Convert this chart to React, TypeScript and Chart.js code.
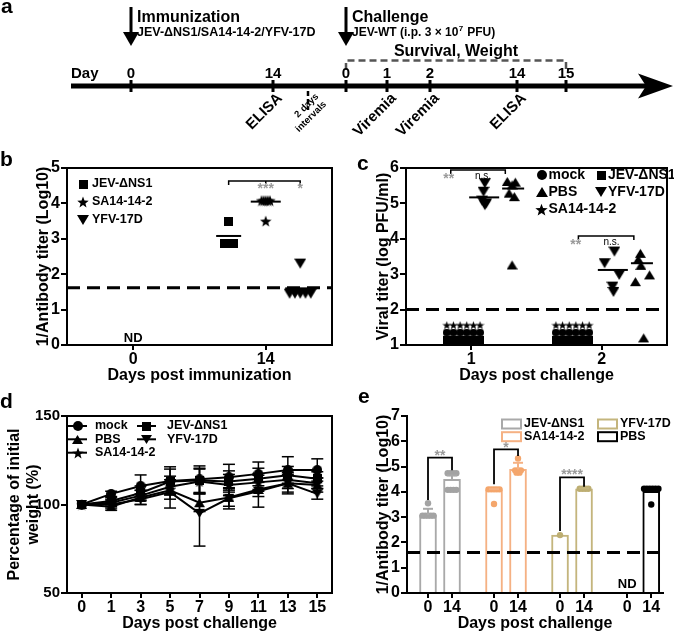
import React, { useEffect, useRef } from 'react';
import { Chart, registerables } from 'chart.js';

Chart.register(...registerables);

const FF = "'Liberation Sans', Arial, Helvetica, sans-serif";
const fnt = (size: number, weight = 'bold') => `${weight} ${size}px ${FF}`;
const AX_FONT: any = { family: FF, size: 16, weight: 'bold' };

// ================= DATA =================
// a: timeline
const immunizationLabels = ['0', '14'];
const challengeLabels = ['0', '1', '2', '14', '15'];
const eventLabels = ['ELISA', 'Viremia', 'Viremia', 'ELISA'];

// b: antibody titer after immunization
const bDays = ['0', '14'];
const bSeries = ['JEV-ΔNS1', 'SA14-14-2', 'YFV-17D'];
const bJEV = [3.5, 2.88, 2.88, 2.88, 2.88, 2.88];
const bSA = [4.08, 4.08, 4.08, 4.08, 4.08, 3.5];
const bYFV = [2.3, 1.45, 1.45, 1.45, 1.45, 1.45];
const bMeans = [3.08, 4.05, 1.6];
const bLimit = 1.62;
const bSig = ['***', '*'];

// c: viral titer
const cDays = ['1', '2'];
const cSeries = ['mock', 'JEV-ΔNS1', 'PBS', 'YFV-17D', 'SA14-14-2'];
const cMock = [1.35, 1.35, 1.35, 1.35, 1.35, 1.35];
const cJEV = [1.15, 1.15, 1.15, 1.15, 1.15, 1.15];
const cSA = [1.56, 1.56, 1.56, 1.56, 1.56, 1.56];
const cYFVDay1 = [5.57, 5.33, 5.08, 5.0, 4.95];
const cYFVDay2 = [3.64, 3.31, 2.98, 2.65, 2.5];
const cPBSDay1 = [5.62, 5.6, 5.52, 5.29, 5.19, 3.26];
const cPBSDay2 = [3.59, 3.42, 3.25, 2.98, 2.79, 1.2];
const cMeanYFV = [5.17, 3.12];
const cMeanPBS = [5.42, 3.31];
const cLimit = 2;
const cSig = ['**', 'n.s.'];

// d: weight
const dDays = ['0', '1', '3', '5', '7', '9', '11', '13', '15'];
const dSeries = ['mock', 'JEV-ΔNS1', 'PBS', 'YFV-17D', 'SA14-14-2'];
const dMock = [100, 106, 110.5, 113.3, 114.3, 115.4, 117.3, 119.5, 119.5];
const dMockSD = [0, 1.5, 6.2, 8, 7.5, 7.3, 6.7, 7.5, 6.3];
const dJEV = [100, 102, 106.5, 113, 113.5, 113, 114.5, 116.5, 114.5];
const dJEVSD = [0, 2, 4, 7, 7, 6, 6, 5, 4];
const dPBS = [100, 98.8, 104, 108, 101, 104, 108.5, 112, 111];
const dPBSSD = [0, 2, 4, 5, 5, 5, 4, 5, 4];
const dYFV = [100, 100, 103, 107, 95, 103.5, 107.5, 112, 106];
const dYFVSD = [0, 2, 3, 9, 18.5, 6, 9, 6, 3];
const dSA = [100, 101, 105, 110, 113, 111, 112.5, 114, 112];
const dSASD = [0, 2, 3, 4, 7, 6, 5, 5, 3];

// e: antibody titer post challenge
const eGroups = ['JEV-ΔNS1', 'SA14-14-2', 'YFV-17D', 'PBS'];
const eDays = ['0', '14'];
const eMean0 = [3.08, 4.07, 2.29, null];
const eMean14 = [4.5, 4.89, 4.12, 4.02];
const eSD0 = [0.25, 0.04, 0, null];
const eSD14 = [0.15, 0.26, 0.02, 0.06];
const eDots0 = [[3.55, 3.06, 3.06, 3.06, 3.06, 3.06], [4.1, 4.1, 4.1, 4.1, 4.1, 3.52], [2.29], []];
const eDots14 = [
  [4.74, 4.74, 4.74, 4.74, 4.08, 4.08, 4.08, 4.08],
  [5.32, 4.85, 4.85, 4.85, 4.76, 4.76],
  [4.12, 4.12, 4.12, 4.12],
  [4.12, 4.12, 4.12, 4.12, 4.12, 4.12, 3.5],
];
const eSig = ['**', '*', '****'];
const eLimit = 1.6;

// ================= HELPERS =================
function makeMarker(shape: string, size: number, color = '#000'): HTMLCanvasElement {
  const c = document.createElement('canvas');
  c.width = size;
  c.height = size;
  const g = c.getContext('2d') as CanvasRenderingContext2D;
  g.fillStyle = color;
  const s = size, h = size / 2;
  g.beginPath();
  if (shape === 'square') g.rect(0, 0, s, s);
  else if (shape === 'circle') g.arc(h, h, h, 0, Math.PI * 2);
  else if (shape === 'triUp') { g.moveTo(h, s * 0.08); g.lineTo(s, s * 0.92); g.lineTo(0, s * 0.92); }
  else if (shape === 'triDown') { g.moveTo(0, s * 0.08); g.lineTo(s, s * 0.08); g.lineTo(h, s * 0.92); }
  else if (shape === 'star') {
    for (let i = 0; i < 10; i++) {
      const r = i % 2 ? h * 0.42 : h;
      const a = -Math.PI / 2 + (i * Math.PI) / 5;
      const px = h + r * Math.cos(a), py = h + s * 0.05 + r * Math.sin(a);
      if (i === 0) g.moveTo(px, py); else g.lineTo(px, py);
    }
  }
  g.closePath();
  g.fill();
  return c;
}

function swarm(values: number[], center: number, step: number) {
  const counts = new Map<number, number>();
  values.forEach((v) => counts.set(v, (counts.get(v) || 0) + 1));
  const seen = new Map<number, number>();
  return values.map((v) => {
    const k = counts.get(v) as number;
    const j = seen.get(v) || 0;
    seen.set(v, j + 1);
    return { x: center + (j - (k - 1) / 2) * step, y: v };
  });
}

function text(ctx: any, s: string, x: number, y: number, size: number, o: any = {}) {
  ctx.font = fnt(size, o.weight || 'bold');
  ctx.fillStyle = o.color || '#000';
  ctx.textAlign = o.align || 'left';
  ctx.textBaseline = o.baseline || 'middle';
  ctx.fillText(s, x, y);
}

function img(ctx: any, im: HTMLCanvasElement, x: number, y: number) {
  ctx.drawImage(im, Math.round(x - im.width / 2), Math.round(y - im.height / 2));
}

function line(ctx: any, pts: number[][], w = 2, color = '#000', dash: number[] = []) {
  ctx.save();
  ctx.beginPath();
  ctx.strokeStyle = color;
  ctx.lineWidth = w;
  ctx.setLineDash(dash);
  pts.forEach((p, i) => (i === 0 ? ctx.moveTo(p[0], p[1]) : ctx.lineTo(p[0], p[1])));
  ctx.stroke();
  ctx.restore();
}

function frame(chart: any) {
  const { ctx, chartArea: ca } = chart;
  ctx.save();
  ctx.strokeStyle = '#000';
  ctx.lineWidth = 2;
  ctx.strokeRect(ca.left, ca.top, ca.right - ca.left, ca.bottom - ca.top);
  ctx.restore();
}

function yScale(min: number, max: number, step: number, title: any, titleTop: number, width: number, tickSize = 16) {
  return {
    type: 'linear', position: 'left', min, max,
    ticks: { stepSize: step, color: '#000', font: { ...AX_FONT, size: tickSize }, padding: 1 },
    grid: { drawOnChartArea: false, drawTicks: true, tickLength: 6, color: '#000', lineWidth: 2 },
    border: { display: true, color: '#000', width: 2 },
    title: { display: true, text: title, color: '#000', font: AX_FONT, padding: { top: titleTop, bottom: 0 } },
    afterFit: (s: any) => { s.width = width; },
  };
}

function xLinear(min: number, max: number, vals: number[], labels: string[], title: string, height: number, titleBottom: number) {
  return {
    type: 'linear', position: 'bottom', min, max, offset: false,
    afterBuildTicks: (s: any) => { s.ticks = vals.map((v) => ({ value: v })); },
    ticks: { color: '#000', font: AX_FONT, padding: 0, autoSkip: false, maxRotation: 0, callback: (_v: any, i: number) => labels[i] },
    grid: { drawOnChartArea: false, drawTicks: true, tickLength: 5, color: '#000', lineWidth: 2, offset: false },
    border: { display: true, color: '#000', width: 2 },
    title: { display: true, text: title, color: '#000', font: AX_FONT, padding: { top: 0, bottom: titleBottom } },
    afterFit: (s: any) => { s.height = height; },
  };
}

const baseOptions = (padding: any) => ({
  animation: false,
  responsive: false,
  maintainAspectRatio: false,
  layout: { padding },
  plugins: { legend: { display: false }, tooltip: { enabled: false } },
  events: [],
});

// ================= PANEL A =================
const TLX = { start: 71, immun: [131, 273], gap: 308, chal: [346, 387, 430, 517, 566], head: 640, tip: 673 };
const TLY = { arrowTop: 7, headTop: 32, arrowTip: 46, title: 18, sub: 33, survival: 52, box: 60.5, boxEnd: 70, label: 73.5, line: 86 };

function configA() {
  const plugin = {
    id: 'timeline',
    afterDraw(chart: any) {
      const { ctx, scales: { x, y } } = chart;
      const X = (v: number) => x.getPixelForValue(v);
      const Y = (v: number) => y.getPixelForValue(v);
      ctx.save();
      text(ctx, 'a', X(1), Y(13), 21, { baseline: 'alphabetic' });
      // arrows
      [TLX.immun[0], TLX.chal[0]].forEach((p) => {
        ctx.fillStyle = '#000';
        ctx.fillRect(X(p) - 1.5, Y(TLY.arrowTop), 3, Y(TLY.headTop + 2) - Y(TLY.arrowTop));
        ctx.beginPath();
        ctx.moveTo(X(p) - 8, Y(TLY.headTop));
        ctx.lineTo(X(p) + 8, Y(TLY.headTop));
        ctx.lineTo(X(p), Y(TLY.arrowTip));
        ctx.closePath();
        ctx.fill();
      });
      text(ctx, 'Immunization', X(137), Y(TLY.title), 16);
      text(ctx, 'JEV-ΔNS1/SA14-14-2/YFV-17D', X(137), Y(TLY.sub), 12.5);
      text(ctx, 'Challenge', X(352), Y(TLY.title), 16);
      // JEV-WT (i.p. 3 × 10^7 PFU)
      ctx.font = fnt(12);
      const p1 = 'JEV-WT (i.p. 3 × 10';
      text(ctx, p1, X(352), Y(TLY.sub), 12);
      ctx.font = fnt(12);
      const w1 = ctx.measureText(p1).width;
      text(ctx, '7', X(352) + w1 + 0.5, Y(TLY.sub - 4), 8);
      ctx.font = fnt(8);
      const w2 = ctx.measureText('7').width;
      text(ctx, ' PFU)', X(352) + w1 + w2 + 1, Y(TLY.sub), 12);
      text(ctx, 'Survival, Weight', X(456), Y(TLY.survival), 16, { align: 'center' });
      // dashed survival box
      line(ctx, [[X(TLX.chal[0]), Y(TLY.boxEnd)], [X(TLX.chal[0]), Y(TLY.box)], [X(TLX.chal[4]), Y(TLY.box)], [X(TLX.chal[4]), Y(TLY.boxEnd)]], 2.5, '#555', [7, 4]);
      // main line
      line(ctx, [[X(TLX.start), Y(TLY.line)], [X(TLX.head + 8), Y(TLY.line)]], 5);
      ctx.fillStyle = '#000';
      ctx.beginPath();
      ctx.moveTo(X(TLX.tip), Y(TLY.line));
      ctx.lineTo(X(TLX.head - 2), Y(TLY.line - 12.5));
      ctx.lineTo(X(TLX.head + 6), Y(TLY.line));
      ctx.lineTo(X(TLX.head - 2), Y(TLY.line + 12.5));
      ctx.closePath();
      ctx.fill();
      // ticks & labels
      text(ctx, 'Day', X(TLX.start), Y(TLY.label), 15);
      TLX.immun.forEach((p, i) => {
        ctx.fillRect(X(p) - 1.5, Y(TLY.line - 6), 3, 12);
        text(ctx, immunizationLabels[i], X(p), Y(TLY.label), 15, { align: 'center' });
      });
      TLX.chal.forEach((p, i) => {
        ctx.fillRect(X(p) - 1.5, Y(TLY.line - 6), 3, 12);
        text(ctx, challengeLabels[i], X(p), Y(TLY.label), 15, { align: 'center' });
      });
      // interval marker
      line(ctx, [[X(TLX.gap), Y(TLY.line + 5)], [X(TLX.gap), Y(TLY.line + 24)]], 2.5, '#000', [5, 3]);
      // rotated labels
      const ang = (-45 * Math.PI) / 180;
      const evPos = [TLX.immun[1], TLX.chal[1], TLX.chal[2], TLX.chal[3]];
      evPos.forEach((p, i) => {
        ctx.save();
        ctx.translate(X(p) + 7, Y(TLY.line + 10));
        ctx.rotate(ang);
        text(ctx, eventLabels[i], 0, 0, 15, { align: 'right' });
        ctx.restore();
      });
      ctx.save();
      ctx.translate(X(TLX.gap) + 13, Y(TLY.line + 13));
      ctx.rotate(ang);
      text(ctx, '2 days', 0, -5.5, 9.5, { align: 'right' });
      text(ctx, 'intervals', 0, 5.5, 9.5, { align: 'right' });
      ctx.restore();
      ctx.restore();
    },
  };
  return {
    type: 'scatter',
    data: { datasets: [] },
    options: {
      ...baseOptions(0),
      scales: {
        x: { display: false, min: 0, max: 674 },
        y: { display: false, min: 0, max: 148, reverse: true },
      },
    },
    plugins: [plugin],
  };
}

// ================= PANEL B =================
function configB() {
  const M = { sq: makeMarker('square', 9), st: makeMarker('star', 12), td: makeMarker('triDown', 12) };
  const centers = [0.72, 1.0, 1.26];
  const halfW = [12.5, 15, 15];
  const ds = (label: string, data: any[], im: any) => ({ label, data, pointStyle: im, pointRadius: 6, pointHoverRadius: 6 });
  const plugin = {
    id: 'pb',
    beforeDatasetsDraw(chart: any) {
      const { ctx, chartArea: ca, scales: { y } } = chart;
      line(ctx, [[ca.left, y.getPixelForValue(bLimit)], [ca.right, y.getPixelForValue(bLimit)]], 3, '#000', [13, 7]);
    },
    afterDatasetsDraw(chart: any) {
      const { ctx, chartArea: ca, scales: { x, y } } = chart;
      bMeans.forEach((m, i) => {
        const cx = x.getPixelForValue(centers[i]);
        line(ctx, [[cx - halfW[i], y.getPixelForValue(m)], [cx + halfW[i], y.getPixelForValue(m)]], 2);
      });
      const by = y.getPixelForValue(4.63);
      const x0 = x.getPixelForValue(centers[0]), x1 = x.getPixelForValue(centers[1]), x2 = x.getPixelForValue(centers[2]);
      line(ctx, [[x0, by + 4], [x0, by], [x2, by], [x2, by + 4]], 1.5);
      line(ctx, [[x1, by], [x1, by + 3]], 1.5);
      const sy = y.getPixelForValue(4.5) + 7;
      text(ctx, bSig[0], x1, sy, 14, { align: 'center', baseline: 'alphabetic', color: '#9a9a9a' });
      text(ctx, bSig[1], x2, sy, 14, { align: 'center', baseline: 'alphabetic', color: '#9a9a9a' });
      text(ctx, 'ND', x.getPixelForValue(0), y.getPixelForValue(0.18), 13, { align: 'center' });
      const ims = [M.sq, M.st, M.td];
      bSeries.forEach((s, i) => {
        const ry = ca.top + 16 + i * 17.8;
        img(ctx, ims[i], ca.left + 16, ry);
        text(ctx, s, ca.left + 25, ry, 12.5);
      });
    },
    afterDraw(chart: any) {
      frame(chart);
      text(chart.ctx, 'b', 0, 18, 21, { baseline: 'alphabetic' });
    },
  };
  return {
    type: 'scatter',
    data: {
      datasets: [
        ds(bSeries[0], swarm(bJEV, centers[0], 0.017), M.sq),
        ds(bSeries[1], swarm(bSA, centers[1], 0.016), M.st),
        ds(bSeries[2], swarm(bYFV, centers[2], 0.04), M.td),
      ],
    },
    options: {
      ...baseOptions({ left: 0, right: 8, top: 20, bottom: 0 }),
      scales: {
        x: xLinear(-0.5, 1.5, [0, 1], bDays, 'Days post immunization', 43, 2.4),
        y: yScale(0, 5, 1, '1/Antibody titer (Log10)', 34.4, 67),
      },
    },
    plugins: [plugin],
  };
}

// ================= PANEL C =================
function configC() {
  const M = {
    ci: makeMarker('circle', 8), sq: makeMarker('square', 8), st: makeMarker('star', 9),
    td: makeMarker('triDown', 12), tu: makeMarker('triUp', 11),
  };
  const L = {
    ci: makeMarker('circle', 10), sq: makeMarker('square', 9), st: makeMarker('star', 13),
    td: makeMarker('triDown', 12), tu: makeMarker('triUp', 12),
  };
  const rowC = [0.94, 1.776];
  const yfvC = [1.104, 2.09];
  const pbsC = [1.313, 2.3];
  const yfvJit = [[0, -0.01, -0.02, 0.01, 0], [0.007, -0.068, 0.044, -0.008, 0]];
  const pbsJit = [[-0.037, 0.025, 0, -0.023, 0.017, 0], [-0.004, -0.02, 0, 0.066, -0.042, 0.021]];
  const both = (vals: number[]) => [...swarm(vals, rowC[0], 0.051), ...swarm(vals, rowC[1], 0.051)];
  const yfv = [cYFVDay1, cYFVDay2].flatMap((arr, d) => arr.map((v, i) => ({ x: yfvC[d] + yfvJit[d][i], y: v })));
  const pbs = [cPBSDay1, cPBSDay2].flatMap((arr, d) => arr.map((v, i) => ({ x: pbsC[d] + pbsJit[d][i], y: v })));
  const ds = (label: string, data: any[], im: any) => ({ label, data, pointStyle: im, pointRadius: 6, pointHoverRadius: 6 });
  const plugin = {
    id: 'pc',
    beforeDatasetsDraw(chart: any) {
      const { ctx, chartArea: ca, scales: { y } } = chart;
      line(ctx, [[ca.left, y.getPixelForValue(cLimit)], [ca.right, y.getPixelForValue(cLimit)]], 3, '#000', [13, 7]);
    },
    afterDatasetsDraw(chart: any) {
      const { ctx, chartArea: ca, scales: { x, y } } = chart;
      const X = (v: number) => x.getPixelForValue(v), Y = (v: number) => y.getPixelForValue(v);
      [0, 1].forEach((d) => {
        line(ctx, [[X(yfvC[d] - 0.005) - 15, Y(cMeanYFV[d])], [X(yfvC[d] - 0.005) + 15, Y(cMeanYFV[d])]], 2);
        line(ctx, [[X(pbsC[d] + 0.008) - 11, Y(cMeanPBS[d])], [X(pbsC[d] + 0.008) + 11, Y(cMeanPBS[d])]], 2);
      });
      // brackets
      const br = [
        { a: 0.843, b: 1.261, y: 5.94, star: 0.828, ns: 1.09, ty: 5.76 },
        { a: 1.821, b: 2.246, y: 4.08, star: 1.8, ns: 2.075, ty: 3.9 },
      ];
      br.forEach((k) => {
        const by = Y(k.y);
        line(ctx, [[X(k.a), by + 4], [X(k.a), by], [X(k.b), by], [X(k.b), by + 4]], 1.5);
        text(ctx, cSig[0], X(k.star), Y(k.ty) + 7, 14, { align: 'center', baseline: 'alphabetic', color: '#9a9a9a' });
        text(ctx, cSig[1], X(k.ns), Y(k.ty), 10, { align: 'center', weight: 'normal' });
      });
      // legend
      const rows = [ca.top + 7, ca.top + 24.3, ca.top + 41.3];
      const c1 = ca.left + 135.5, c2 = ca.left + 195;
      img(ctx, L.ci, c1, rows[0]); text(ctx, cSeries[0], c1 + 7, rows[0], 14);
      img(ctx, L.sq, c2, rows[0]); text(ctx, cSeries[1], c2 + 7, rows[0], 14);
      img(ctx, L.tu, c1, rows[1]); text(ctx, cSeries[2], c1 + 7, rows[1], 14);
      img(ctx, L.td, c2, rows[1]); text(ctx, cSeries[3], c2 + 7, rows[1], 14);
      img(ctx, L.st, c1, rows[2]); text(ctx, cSeries[4], c1 + 7, rows[2], 14);
    },
    afterDraw(chart: any) {
      frame(chart);
      text(chart.ctx, 'c', 17, 22, 21, { baseline: 'alphabetic' });
    },
  };
  return {
    type: 'scatter',
    data: {
      datasets: [
        ds(cSeries[0], both(cMock), M.ci),
        ds(cSeries[1], both(cJEV), M.sq),
        ds(cSeries[4], both(cSA), M.st),
        ds(cSeries[3], yfv, M.td),
        ds(cSeries[2], pbs, M.tu),
      ],
    },
    options: {
      ...baseOptions({ left: 0, right: 1, top: 20, bottom: 0 }),
      scales: {
        x: xLinear(0.5, 2.5, [1, 2], cDays, 'Days post challenge', 43, 2.4),
        y: yScale(1, 6, 1, 'Viral titer (log PFU/ml)', 34, 66),
      },
    },
    plugins: [plugin],
  };
}

// ================= PANEL D =================
function configD() {
  const shapes = ['circle', 'square', 'triUp', 'triDown', 'star'];
  const sizes = [10, 9, 11, 11, 12];
  const M = shapes.map((s, i) => makeMarker(s, sizes[i]));
  const vals = [dMock, dJEV, dPBS, dYFV, dSA];
  const sds = [dMockSD, dJEVSD, dPBSSD, dYFVSD, dSASD];
  const plugin = {
    id: 'pd',
    afterDatasetsDraw(chart: any) {
      const { ctx, chartArea: ca, scales: { x, y } } = chart;
      vals.forEach((arr, s) => {
        arr.forEach((v, i) => {
          const sd = sds[s][i];
          if (!sd) return;
          const px = x.getPixelForValue(i);
          const t = y.getPixelForValue(v + sd), b = y.getPixelForValue(v - sd);
          line(ctx, [[px, t], [px, b]], 1.5);
          line(ctx, [[px - 6, t], [px + 6, t]], 1.5);
          line(ctx, [[px - 6, b], [px + 6, b]], 1.5);
        });
      });
      // legend
      const rows = [ca.top + 10, ca.top + 23.3, ca.top + 36.7];
      const items = [
        { s: 0, col: 0, row: 0 }, { s: 1, col: 1, row: 0 },
        { s: 2, col: 0, row: 1 }, { s: 3, col: 1, row: 1 },
        { s: 4, col: 0, row: 2 },
      ];
      items.forEach((it) => {
        const lx = ca.left + (it.col ? 70 : 1);
        const ry = rows[it.row];
        line(ctx, [[lx, ry], [lx + 19, ry]], 2);
        img(ctx, M[it.s], lx + 9.5, ry);
        text(ctx, dSeries[it.s], ca.left + (it.col ? 100 : 28), ry, 12.5);
      });
    },
    afterDraw(chart: any) {
      frame(chart);
      text(chart.ctx, 'd', 0, 20, 21, { baseline: 'alphabetic' });
    },
  };
  return {
    type: 'line',
    data: {
      labels: dDays,
      datasets: vals.map((arr, i) => ({
        label: dSeries[i], data: arr, borderColor: '#000', borderWidth: 2, tension: 0,
        pointStyle: M[i], pointRadius: 5, fill: false,
      })),
    },
    options: {
      ...baseOptions({ left: 0, right: 8, top: 28, bottom: 0 }),
      scales: {
        x: {
          type: 'category', offset: true,
          ticks: { color: '#000', font: AX_FONT, padding: 0, autoSkip: false, maxRotation: 0 },
          grid: { drawOnChartArea: false, drawTicks: true, tickLength: 5, color: '#000', lineWidth: 2, offset: false },
          border: { display: true, color: '#000', width: 2 },
          title: { display: true, text: 'Days post challenge', color: '#000', font: AX_FONT, padding: { top: 0, bottom: 0 } },
          afterFit: (s: any) => { s.height = 40; },
        },
        y: yScale(50, 150, 50, ['Percentage of initial', 'weight (%)'], 5, 67, 15),
      },
    },
    plugins: [plugin],
  };
}

// ================= PANEL E =================
function configE() {
  const colors = ['#a9a9a9', '#f5b183', '#c4b57d', '#000000'];
  const dotColors = ['#a3a3a3', '#f4a66c', '#bdae72', '#000000'];
  const pos0 = [0, 2.75, 5.5, 8.3];
  const pos14 = [1, 3.75, 6.5, 9.3];
  const tickVals = [0, 1, 2.75, 3.75, 5.5, 6.5, 8.3, 9.3];
  const tickLabels = eGroups.flatMap(() => eDays);
  const bars: any[] = [];
  const barColors: string[] = [];
  eGroups.forEach((_g, i) => {
    if (eMean0[i] !== null) { bars.push({ x: pos0[i], y: eMean0[i] }); barColors.push(colors[i]); }
    bars.push({ x: pos14[i], y: eMean14[i] }); barColors.push(colors[i]);
  });
  const dotSets = eGroups.map((g, i) => ({
    type: 'scatter', label: g + ' dots', order: 1,
    data: [...swarm(eDots0[i], pos0[i], 0.115), ...swarm(eDots14[i], pos14[i], 0.12)],
    pointRadius: 3.2, pointBorderWidth: 0, pointBackgroundColor: dotColors[i], backgroundColor: dotColors[i],
  }));
  const plugin = {
    id: 'pe',
    afterDatasetsDraw(chart: any) {
      const { ctx, chartArea: ca, scales: { x, y } } = chart;
      const X = (v: number) => x.getPixelForValue(v), Y = (v: number) => y.getPixelForValue(v);
      // error bars (upper)
      eGroups.forEach((_g, i) => {
        [[pos0[i], eMean0[i], eSD0[i]], [pos14[i], eMean14[i], eSD14[i]]].forEach(([p, m, sd]: any) => {
          if (m === null || !sd) return;
          line(ctx, [[X(p), Y(m)], [X(p), Y(m + sd)]], 2, colors[i]);
          line(ctx, [[X(p) - 5, Y(m + sd)], [X(p) + 5, Y(m + sd)]], 2, colors[i]);
        });
      });
      line(ctx, [[ca.left, Y(eLimit)], [ca.right, Y(eLimit)]], 3, '#000', [13, 7]);
      // brackets
      const br = [
        { top: 5.35, l: 3.68, r: 4.85, t: 5.53 },
        { top: 5.68, l: 4.3, r: 5.42, t: 5.85 },
        { top: 4.57, l: 2.45, r: 4.2, t: 4.78 },
      ];
      br.forEach((k, i) => {
        line(ctx, [[X(pos0[i]), Y(k.l)], [X(pos0[i]), Y(k.top)], [X(pos14[i]), Y(k.top)], [X(pos14[i]), Y(k.r)]], 1.8);
        text(ctx, eSig[i], (X(pos0[i]) + X(pos14[i])) / 2, Y(k.t) + 7, 14, { align: 'center', baseline: 'alphabetic', color: '#9a9a9a' });
      });
      text(ctx, 'ND', X(pos0[3]), Y(0.34), 13, { align: 'center' });
      // legend
      const rows = [ca.top + 8, ca.top + 20.7];
      const cols = [ca.left + 94, ca.left + 190];
      eGroups.forEach((g, i) => {
        const cx = cols[i < 2 ? 0 : 1];
        const ry = rows[i % 2];
        ctx.save();
        ctx.fillStyle = '#fff';
        ctx.fillRect(cx, ry - 5, 20, 10);
        ctx.strokeStyle = colors[i];
        ctx.lineWidth = 2;
        ctx.strokeRect(cx + 1, ry - 4.5, 19, 9);
        ctx.restore();
        text(ctx, g, cx + 23, ry, 12.5);
      });
    },
    afterDraw(chart: any) {
      text(chart.ctx, 'e', 18, 15, 21, { baseline: 'alphabetic' });
    },
  };
  return {
    type: 'bar',
    data: {
      datasets: [
        ...dotSets,
        {
          type: 'bar', label: 'titer', order: 2, data: bars,
          backgroundColor: '#ffffff', borderColor: barColors, borderWidth: 2, barThickness: 17,
        },
      ],
    },
    options: {
      ...baseOptions({ left: 0, right: 11, top: 28, bottom: 0 }),
      scales: {
        x: xLinear(-0.875, 9.79, tickVals, tickLabels, 'Days post challenge', 40, 0),
        y: yScale(0, 7, 1, '1/Antibody titer (Log10)', 34, 67),
      },
    },
    plugins: [plugin],
  };
}

// ================= COMPONENTS =================
function Panel({ left, top, width, height, config }: { left: number; top: number; width: number; height: number; config: () => any }) {
  const ref = useRef<HTMLCanvasElement | null>(null);
  useEffect(() => {
    if (!ref.current) return;
    const chart = new Chart(ref.current, config());
    return () => chart.destroy();
  }, []);
  return (
    <canvas
      ref={ref}
      width={width}
      height={height}
      style={{ position: 'absolute', left, top, width, height, display: 'block' }}
    />
  );
}

export default function App() {
  return (
    <div style={{ position: 'fixed', left: 0, top: 0, width: 674, height: 633, background: '#fff', overflow: 'hidden' }}>
      <Panel left={0} top={0} width={674} height={148} config={configA} />
      <Panel left={0} top={148} width={340} height={240} config={configB} />
      <Panel left={340} top={148} width={334} height={240} config={configC} />
      <Panel left={0} top={388} width={340} height={245} config={configD} />
      <Panel left={340} top={388} width={334} height={245} config={configE} />
    </div>
  );
}
